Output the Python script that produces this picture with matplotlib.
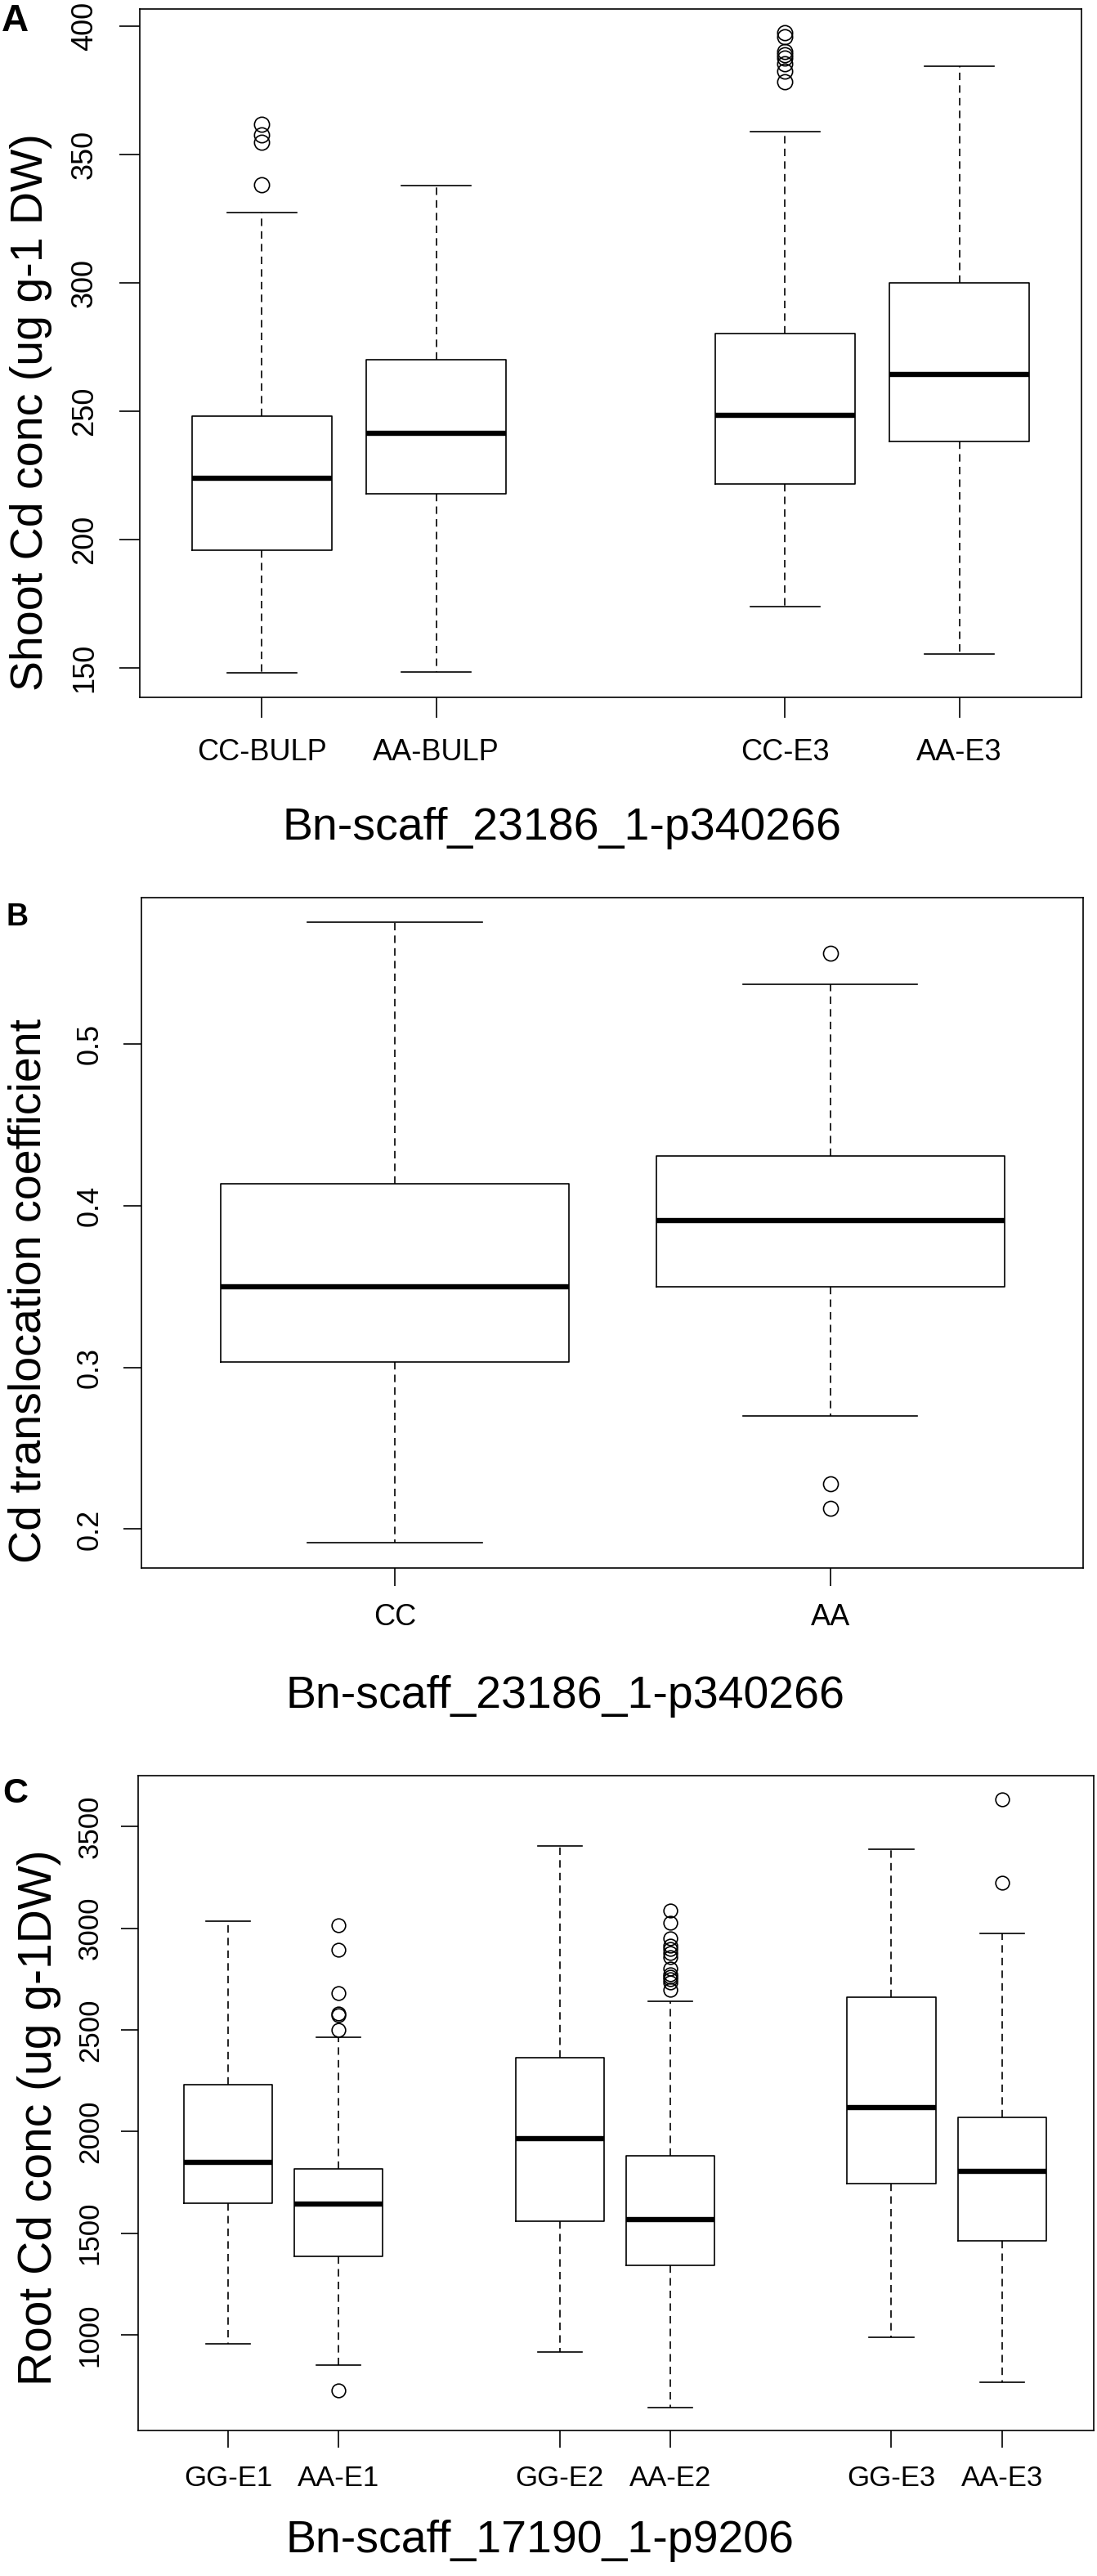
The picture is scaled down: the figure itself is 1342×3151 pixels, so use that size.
import matplotlib
matplotlib.use("Agg")
import matplotlib.pyplot as plt

plt.rcParams['font.family'] = ['Liberation Sans', 'DejaVu Sans']

W, H = 1342, 3151

# ---------------- data ----------------
a_labels = ["CC-BULP", "AA-BULP", "CC-E3", "AA-E3"]
a_pos = [1, 2, 4, 5]
a_whislo = [148.0, 148.4, 174.0, 155.3]
a_q1 = [195.7, 217.7, 221.5, 238.2]
a_med = [224.0, 241.5, 248.4, 264.2]
a_q3 = [248.2, 270.1, 280.3, 299.9]
a_whishi = [327.5, 337.8, 358.8, 384.3]
a_fliers = [[361.8, 357.7, 354.9, 338.2],
            [],
            [397.5, 396.0, 390.1, 389.0, 387.5, 385.3, 382.6, 378.4],
            []]
a_yticks = [150, 200, 250, 300, 350, 400]

b_labels = ["CC", "AA"]
b_pos = [1, 2]
b_whislo = [0.1915, 0.2699]
b_q1 = [0.3035, 0.350]
b_med = [0.350, 0.3908]
b_q3 = [0.4135, 0.4305]
b_whishi = [0.5752, 0.5369]
b_fliers = [[], [0.556, 0.228, 0.2128]]
b_yticks = [0.2, 0.3, 0.4, 0.5]

c_labels = ["GG-E1", "AA-E1", "GG-E2", "AA-E2", "GG-E3", "AA-E3"]
c_pos = [1, 2, 4, 5, 7, 8]
c_whislo = [957, 849, 916, 641, 987, 765]
c_q1 = [1648, 1386, 1559, 1343, 1742, 1464]
c_med = [1850, 1643, 1964, 1567, 2118, 1805]
c_q3 = [2231, 1815, 2363, 1880, 2660, 2069]
c_whishi = [3036, 2465, 3406, 2639, 3389, 2976]
c_fliers = [[],
            [727, 3016, 2893, 2679, 2581, 2571, 2501],
            [],
            [3089, 3025, 2949, 2916, 2896, 2876, 2856, 2803, 2775, 2762, 2748, 2735, 2696],
            [],
            [3635, 3222]]
c_yticks = [1000, 1500, 2000, 2500, 3000, 3500]


def fx(x):
    return x / W


def fy(y):
    return 1 - y / H


fig = plt.figure(figsize=(W / 100, H / 100), dpi=100)
fig.patch.set_facecolor('white')

LW = 1.2


def panel(rect_px, labels, pos, lo, q1, med, q3, hi, fliers, yticks, ylim, xlim,
          tickfmt, ms, tick_fs, xpad, ypad, ticklen):
    l, t, r, b = rect_px
    ax = fig.add_axes([fx(l), fy(b), (r - l) / W, (b - t) / H])
    stats = []
    for i in range(len(pos)):
        stats.append(dict(med=med[i], q1=q1[i], q3=q3[i], whislo=lo[i],
                          whishi=hi[i], fliers=fliers[i]))
    ax.bxp(stats, positions=pos, widths=0.8, capwidths=0.4, showfliers=True,
           boxprops=dict(color='black', linewidth=LW),
           whiskerprops=dict(color='black', linewidth=LW, linestyle=(0, (5.5, 3.8))),
           capprops=dict(color='black', linewidth=LW),
           medianprops=dict(color='black', linewidth=4.6, solid_capstyle='butt'),
           flierprops=dict(marker='o', markerfacecolor='none', markeredgecolor='black',
                           markersize=ms, markeredgewidth=1.2, linestyle='none'))
    ax.set_xlim(*xlim)
    ax.set_ylim(*ylim)
    ax.set_xticks(pos)
    ax.set_xticklabels(labels)
    ax.set_yticks(yticks)
    ax.set_yticklabels([tickfmt(v) for v in yticks])
    for s in ax.spines.values():
        s.set_linewidth(LW)
        s.set_color('black')
    ax.tick_params(axis='both', direction='out', length=ticklen, width=LW,
                   colors='black', labelsize=tick_fs)
    ax.tick_params(axis='x', pad=xpad)
    ax.tick_params(axis='y', pad=ypad, labelrotation=90)
    for tl in ax.get_yticklabels():
        tl.set_va('center')
    return ax


# Panel A
panel((171, 11, 1323, 853), a_labels, a_pos, a_whislo, a_q1, a_med, a_q3, a_whishi,
      a_fliers, a_yticks, (138.5, 406.7), (0.3, 5.7), lambda v: f"{v:d}",
      13.2, 26, 18, 18, 18)
# Panel B
panel((173, 1098, 1324.5, 1917.6), b_labels, b_pos, b_whislo, b_q1, b_med, b_q3,
      b_whishi, b_fliers, b_yticks, (0.1762, 0.5903), (0.418, 2.58),
      lambda v: f"{v:.1f}", 13.0, 26, 15, 17, 16)
# Panel C
panel((168.5, 2172.4, 1338, 2973.3), c_labels, c_pos, c_whislo, c_q1, c_med, c_q3,
      c_whishi, c_fliers, c_yticks, (528, 3749), (0.183, 8.83), lambda v: f"{v:d}",
      12.0, 25, 15, 15, 15)

# axis titles
fig.text(fx(688), fy(1026.7), "Bn-scaff_23186_1-p340266", ha='center', va='baseline', fontsize=40)
fig.text(fx(691), fy(2089), "Bn-scaff_23186_1-p340266", ha='center', va='baseline', fontsize=40)
fig.text(fx(661), fy(3122), "Bn-scaff_17190_1-p9206", ha='center', va='baseline', fontsize=40)

fig.text(fx(51.7), fy(504), "Shoot Cd conc (ug g-1 DW)", rotation=90, rotation_mode='anchor',
         ha='center', va='baseline', fontsize=40)
fig.text(fx(49.7), fy(1579), "Cd translocation coefficient", rotation=90, rotation_mode='anchor',
         ha='center', va='baseline', fontsize=40)
fig.text(fx(63), fy(2590), "Root Cd conc (ug g-1DW)", rotation=90, rotation_mode='anchor',
         ha='center', va='baseline', fontsize=41)

# panel letters
fig.text(fx(2), fy(38), "A", ha='left', va='baseline', fontsize=33, fontweight='bold')
fig.text(fx(8), fy(1132), "B", ha='left', va='baseline', fontsize=27, fontweight='bold')
fig.text(fx(3), fy(2205), "C", ha='left', va='baseline', fontsize=31, fontweight='bold')

fig.savefig("out.png", dpi=100, facecolor='white')
